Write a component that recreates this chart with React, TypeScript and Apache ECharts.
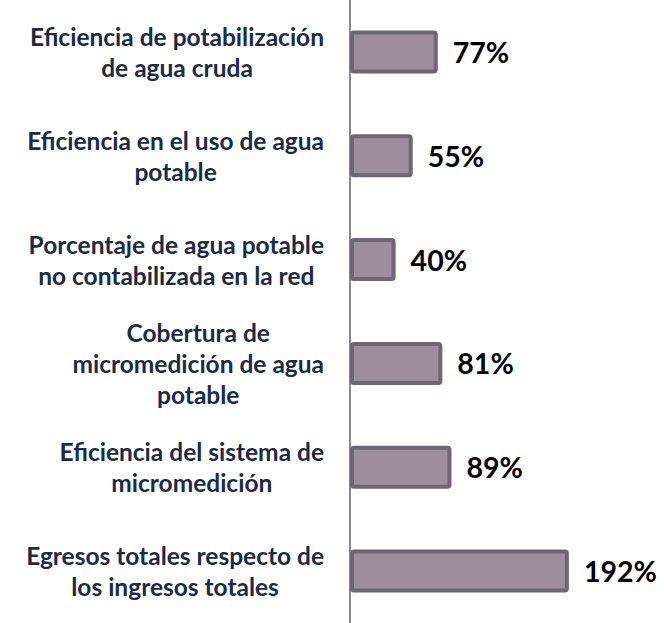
import React, { useEffect, useRef } from "react";
import * as echarts from "echarts";

const categories: string[][] = [
  ["Eficiencia de potabilización", "de agua cruda"],
  ["Eficiencia en el uso de agua", "potable"],
  ["Porcentaje de agua potable", "no contabilizada en la red"],
  ["Cobertura de", "micromedición de agua", "potable"],
  ["Eficiencia del sistema de", "micromedición"],
  ["Egresos totales respecto de", "los ingresos totales"],
];
const values: number[] = [77, 55, 40, 81, 89, 192];

export default function App() {
  const ref = useRef<HTMLDivElement>(null);
  useEffect(() => {
    if (!ref.current) return;
    const chart = echarts.init(ref.current, null, { renderer: "svg" });
    const catNames = categories.map((c) => c.join("\n"));
    chart.setOption({
      animation: false,
      grid: { left: 350, top: 0, width: 285, height: 630 },
      xAxis: {
        type: "value",
        min: 0,
        max: 250,
        show: false,
        splitLine: { show: false },
      },
      yAxis: {
        type: "category",
        inverse: true,
        data: catNames,
        axisLine: { show: true, lineStyle: { color: "#8a8a8a", width: 2 } },
        axisTick: { show: false },
        axisLabel: {
          margin: 26,
          align: "right",
          formatter: (v: string) =>
            v
              .split("\n")
              .map((l) => `{a|${l}}`)
              .join("\n"),
          rich: {
            a: {
              align: "center",
              fontFamily: "Lato",
              fontWeight: "bold",
              fontSize: 24.5,
              lineHeight: 31,
              color: "#1a2a47",
            },
          },
        },
      },
      series: [
        {
          type: "bar",
          data: values,
          barWidth: 43,
          itemStyle: {
            color: "#9e8d9f",
            borderColor: "#706572",
            borderWidth: 4,
            borderRadius: 2,
          },
          label: {
            show: true,
            position: "right",
            distance: 15,
            formatter: (p: any) => `${p.value}%`,
            fontFamily: "Lato",
            fontWeight: "bold",
            fontSize: 28.5,
            color: "#000000",
          },
        },
      ],
    });
    return () => chart.dispose();
  }, []);
  return (
    <div
      ref={ref}
      style={{ position: "fixed", top: 0, left: 0, width: 664, height: 623, overflow: "hidden", background: "#ffffff" }}
    />
  );
}
